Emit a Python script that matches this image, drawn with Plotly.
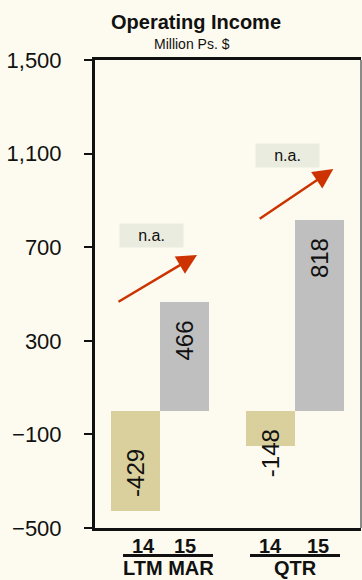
import plotly.graph_objects as go

# ---- data ----
groups = ["LTM MAR", "QTR"]
years = ["14", "15"]
values = {"LTM MAR": [-429, 466], "QTR": [-148, 818]}
year_colors = ["#D9D09D", "#BFBFBF"]
y_ticks = [-500, -100, 300, 700, 1100, 1500]
na_label = "n.a."
title = "Operating Income"
subtitle = "Million Ps. $"

# ---- layout helpers (styling / placement) ----
group_gap = 0.755
BG = "#FDFBEF"
FONT = "Liberation Sans, Arial, sans-serif"
label_shift = {"LTM MAR": [38, -39], "QTR": [-8, -39]}
year_label_xshift = {"LTM MAR": [8, 0], "QTR": [0, -2]}
group_label_xshift = {"LTM MAR": 8, "QTR": 0}

xs, ys, cols = [], [], []
for gi, g in enumerate(groups):
    for yi, yr in enumerate(years):
        xs.append(gi * (2 + group_gap) + yi)
        ys.append(values[g][yi])
        cols.append(year_colors[yi])

fig = go.Figure()
fig.add_trace(go.Bar(x=xs, y=ys, width=1, marker=dict(color=cols, line=dict(width=0)),
                     hoverinfo="skip", showlegend=False))

annotations = []
shapes = []

# value labels (rotated)
k = 0
for gi, g in enumerate(groups):
    for yi, yr in enumerate(years):
        annotations.append(dict(x=xs[k], y=ys[k], xref="x", yref="y", text=str(ys[k]),
                                textangle=-90, showarrow=False, yanchor="middle",
                                yshift=label_shift[g][yi],
                                font=dict(family=FONT, size=24, color="#111")))
        # year labels under axis
        annotations.append(dict(x=xs[k], y=0, xref="x", yref="paper", text="<b>%s</b>" % yr,
                                showarrow=False, yanchor="middle", yshift=-18,
                                xshift=year_label_xshift[g][yi],
                                font=dict(family=FONT, size=20, color="#111")))
        k += 1
    gx0 = gi * (2 + group_gap)
    center = gx0 + 0.5
    annotations.append(dict(x=center, y=0, xref="x", yref="paper", text="<b>%s</b>" % g,
                            showarrow=False, yanchor="middle", yshift=-40, borderpad=0,
                            xshift=group_label_xshift[g],
                            font=dict(family=FONT, size=20, color="#111")))
    shapes.append(dict(type="line", xref="x", yref="paper", xsizemode="pixel", ysizemode="pixel",
                       xanchor=center, yanchor=0,
                       x0=-45 + group_label_xshift[g], x1=45 + group_label_xshift[g],
                       y0=-27.5, y1=-27.5, line=dict(color="#111", width=3)))

# n.a. boxes and trend arrows per group
na_pos = [(0.327, 751), (3.10, 1093)]
arrows = [((-0.378, 463), (1.255, 667)), ((2.504, 817), (4.037, 1034))]
for (nx, ny) in na_pos:
    annotations.append(dict(x=nx, y=ny, xref="x", yref="y", text=na_label, showarrow=False,
                            bgcolor="#EBECE0", width=63, height=23, borderpad=0,
                            font=dict(family=FONT, size=16, color="#111")))
for (tail, tip) in arrows:
    annotations.append(dict(x=tip[0], y=tip[1], ax=tail[0], ay=tail[1], xref="x", yref="y",
                            axref="x", ayref="y", text="", showarrow=True, arrowhead=2,
                            arrowsize=1.6, arrowwidth=2.5, arrowcolor="#CC3300", standoff=0))

# title
annotations.append(dict(x=0.378, y=1, xref="paper", yref="paper", text="<b>%s</b>" % title,
                        showarrow=False, yanchor="middle", yshift=38,
                        font=dict(family=FONT, size=20, color="#111")))
annotations.append(dict(x=0.216, y=1, xref="paper", yref="paper", text=subtitle,
                        showarrow=False, yanchor="middle", yshift=16,
                        font=dict(family=FONT, size=14, color="#111")))

# right border (thin gray)
shapes.append(dict(type="line", xref="paper", yref="paper", x0=1, x1=1, y0=0, y1=1,
                   line=dict(color="#666", width=1.5)))

fig.update_layout(
    width=362, height=580,
    margin=dict(l=95, r=1, t=60, b=52),
    paper_bgcolor=BG, plot_bgcolor=BG,
    bargap=0,
    annotations=annotations, shapes=shapes,
    xaxis=dict(range=[-0.827, 4.602], showticklabels=False, ticks="", showgrid=False,
               zeroline=False, showline=True, mirror=True, linecolor="#111", linewidth=2.5),
    yaxis=dict(range=[-500, 1500], tickvals=y_ticks, tickformat=",", showgrid=False,
               zeroline=False, showline=True, linecolor="#111", linewidth=3,
               ticks="outside", ticklen=8, tickwidth=2, tickcolor="#111",
               ticklabelstandoff=18,
               tickfont=dict(family=FONT, size=22, color="#111")),
)
fig.write_html("out.html")
